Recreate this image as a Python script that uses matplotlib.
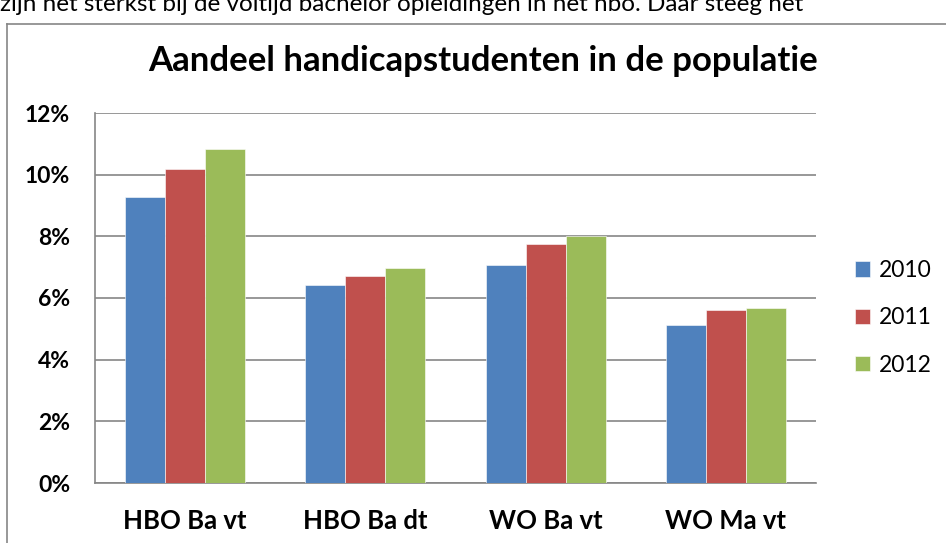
import numpy as np
import matplotlib.pyplot as plt
from matplotlib.lines import Line2D

# data
categorieen = ['HBO Ba vt', 'HBO Ba dt', 'WO Ba vt', 'WO Ma vt']
jaren = ['2010', '2011', '2012']
aandeel_2010 = [9.29, 6.42, 7.07, 5.12]
aandeel_2011 = [10.20, 6.72, 7.76, 5.60]
aandeel_2012 = [10.82, 6.98, 8.02, 5.67]
y_ticks = [0, 2, 4, 6, 8, 10, 12]

kleuren = ['#4F81BD', '#C0504D', '#9BBB59']
grijs = '#868686'

plt.rcParams['font.family'] = ['Lato', 'DejaVu Sans']

fig = plt.figure(figsize=(9.46, 5.43), dpi=100)
W, H = 946, 543
ax = fig.add_axes([95 / W, (H - 483) / H, 721 / W, 370 / H])

x = np.arange(len(categorieen))
breedte = 0.222
reeksen = [aandeel_2010, aandeel_2011, aandeel_2012]
for i, waarden in enumerate(reeksen):
    ax.bar(x + (i - 1) * breedte, waarden, width=breedte, color=kleuren[i],
           edgecolor='white', linewidth=0.4, label=jaren[i], zorder=3)

ax.set_xlim(-0.5, len(categorieen) - 0.5)
ax.set_ylim(0, 12)
ax.set_yticks(y_ticks)
ax.set_yticklabels([f'{t}%' for t in y_ticks], fontsize=16.5, fontweight='bold')
ax.set_xticks(x)
ax.set_xticklabels(categorieen, fontsize=18.5, fontweight='bold')
ax.tick_params(axis='y', length=0, pad=18)
ax.tick_params(axis='x', length=0, pad=19)
ax.yaxis.grid(True, color=grijs, linewidth=1.2, zorder=0)
ax.set_axisbelow(True)
for s in ['top', 'right']:
    ax.spines[s].set_visible(False)
for s in ['left', 'bottom']:
    ax.spines[s].set_color(grijs)
    ax.spines[s].set_linewidth(1.2)

leg = ax.legend(loc='center left', bbox_to_anchor=(1.025, 0.446), frameon=False,
                fontsize=16.5, handlelength=0.65, handleheight=0.65,
                handletextpad=0.4, labelspacing=1.15)

fig.text(483 / W, 1 - 61 / H, 'Aandeel handicapstudenten in de populatie',
         ha='center', va='center', fontsize=25, fontweight='bold')

# stukje lopende tekst boven de grafiek (afgesneden)
fig.text(0.0, 1 - 11 / H,
         'zijn het sterkst bij de voltijd bachelor opleidingen in het hbo. Daar steeg het',
         ha='left', va='baseline', fontsize=17.5)

# rand van het grafiekobject
fig.add_artist(Line2D([7 / W, 7 / W], [0, 1 - 24 / H], color=grijs, linewidth=1.2))
fig.add_artist(Line2D([7 / W, 1], [1 - 24 / H, 1 - 24 / H], color=grijs, linewidth=1.2))

fig.savefig('out.png', dpi=100)
